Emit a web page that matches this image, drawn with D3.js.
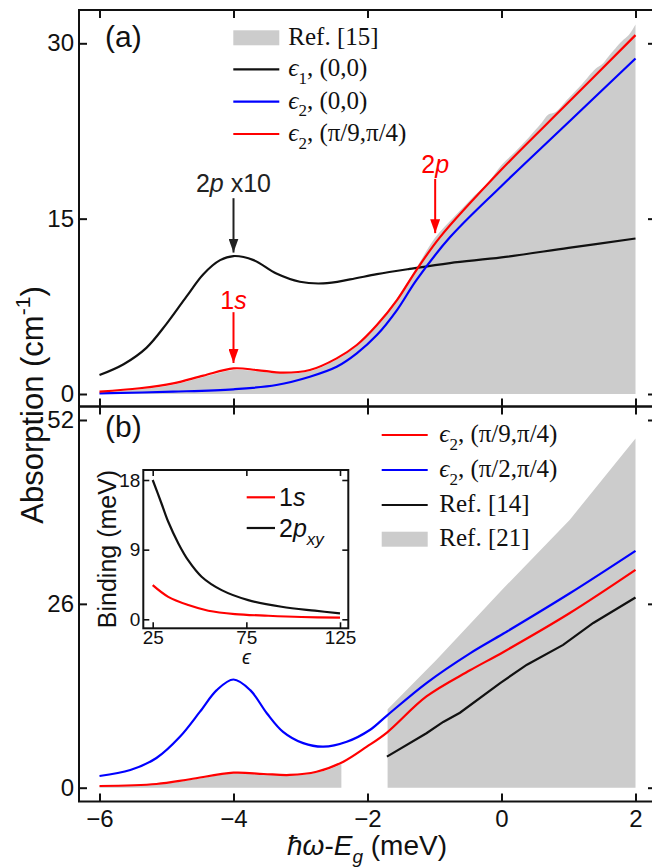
<!DOCTYPE html>
<html lang="en">
<head>
<meta charset="UTF-8">
<script src="https://d3js.org/d3.v7.min.js"></script>
<style>
  body { margin: 0; background: #fff; }
  svg { display: block; }
  .tick line { stroke: #111; stroke-width: 2; }
  .tick text { font-family: "Liberation Sans", Arial, sans-serif; font-size: 24px; fill: #111; }
  .inset .tick text { font-size: 19px; }
  .inset .tick line { stroke-width: 1.6; }
  .sans { font-family: "Liberation Sans", Arial, sans-serif; fill: #111; }
  .serif { font-family: "Liberation Serif", "Times New Roman", "DejaVu Serif", serif; fill: #111; }
  .frame { fill: none; stroke: #111; stroke-width: 2; }
</style>
</head>
<body>
<svg id="chart" width="652" height="867"></svg>
<script>
// ---------- panel (a) ----------
const eps1X = [-6, -5.64, -5.3, -5.0, -4.7, -4.45, -4.2, -4.0, -3.7, -3.36, -3.01, -2.66, -2.26, -1.86, -1.37, -0.77, 0, 1, 2];
const eps1Y = [1.62, 2.55, 3.95, 6.0, 8.35, 10.25, 11.45, 11.8, 11.45, 10.3, 9.6, 9.46, 9.8, 10.25, 10.7, 11.2, 11.68, 12.5, 13.3];

const eps2AX = [-6, -4.9, -4.0, -3.36, -2.86, -2.46, -2.16, -1.86, -1.56, -1.27, -0.77, 0, 1, 2];
const eps2AY = [0.05, 0.2, 0.4, 0.77, 1.48, 2.33, 3.48, 5.04, 7.18, 9.74, 13.4, 17.8, 23.25, 28.7];

const eps2BX = [-6, -5.4, -4.9, -4.45, -4.0, -3.65, -3.26, -2.86, -2.46, -2.16, -1.86, -1.56, -1.27, -0.92, 0, 1, 2];
const eps2BY = [0.2, 0.49, 0.91, 1.57, 2.19, 2.05, 1.82, 2.05, 3.05, 4.19, 5.9, 8.03, 10.6, 13.4, 19.2, 24.95, 30.7];

const ref15X = [-6, -5.4, -4.9, -4.45, -4.0, -3.65, -3.26, -2.86, -2.46, -2.16, -1.86, -1.56, -1.27, -1.0, -0.8, -0.6, -0.4, -0.2, 0, 0.2, 0.4, 0.6, 0.7, 0.8, 1.0, 1.2, 1.4, 1.5, 1.6, 1.8, 1.9, 2.0];
const ref15Y = [0.1, 0.4, 0.8, 1.45, 2.05, 1.95, 1.75, 1.95, 2.95, 4.1, 5.95, 8.2, 10.8, 13.3, 14.6, 15.8, 17.0, 18.1, 19.6, 20.7, 21.9, 23.2, 23.9, 24.1, 25.3, 26.5, 27.8, 28.2, 28.9, 30.2, 30.7, 31.6];

// ---------- panel (b) ----------
const bRedX = [-6, -5.15, -4.65, -4.0, -3.55, -3.16, -2.76, -2.36, -2.01, -1.71, -1.12, -0.47, 0.03, 1.02, 2.0];
const bRedY = [0.24, 0.52, 1.19, 2.12, 1.94, 1.8, 2.26, 3.68, 5.8, 7.8, 12.9, 16.6, 19.2, 24.7, 30.8];

const bBlueX = [-6, -5.54, -5.15, -4.8, -4.5, -4.25, -4.0, -3.75, -3.5, -3.26, -2.96, -2.66, -2.31, -1.96, -1.71, -1.12, -0.47, 0.03, 1.02, 2.0];
const bBlueY = [1.65, 2.5, 4.2, 7.2, 10.75, 13.8, 15.3, 13.8, 10.5, 7.9, 6.3, 5.8, 6.5, 8.2, 10.2, 14.8, 19.0, 21.8, 27.5, 33.5];

const ref14X = [-1.71, -1.12, -0.87, -0.62, -0.02, 0.38, 0.92, 1.37, 2.0];
const ref14Y = [4.4, 7.7, 9.3, 10.6, 14.8, 17.4, 20.2, 23.3, 26.9];

const ref21LowX = [-6, -5.5, -5.0, -4.5, -4.0, -3.5, -3.0, -2.6, -2.39];
const ref21LowY = [0.15, 0.3, 0.6, 1.3, 2.0, 1.85, 1.8, 2.5, 3.35];
const ref21HighX = [-1.70, -0.97, 0.03, 1.02, 2.0];
const ref21HighY = [11.1, 18.1, 28.2, 37.9, 49.4];

// ---------- inset ----------
const inEps2pX = [25, 29.8, 33.3, 38.7, 44, 51.1, 61.8, 76, 93.8, 111.6, 125];
const inEps2pY = [18.0, 14.9, 12.6, 9.8, 7.6, 5.5, 3.77, 2.48, 1.62, 1.11, 0.77];
const inEps1sX = [25, 33.3, 44, 54.7, 68.9, 86.7, 104.4, 125];
const inEps1sY = [4.41, 2.9, 1.84, 1.11, 0.68, 0.46, 0.30, 0.21];

const xTicks = [-6, -4, -2, 0, 2];
const yTicksA = [0, 15, 30];
const yTicksB = [0, 26, 52];
const inXTicks = [25, 75, 125];
const inYTicks = [0, 9, 18];

const RED = "#ff0000", BLUE = "#0000ff", BLACK = "#111", GRAY = "#cccccc";

const svg = d3.select("#chart");

// frame geometry
const L = 79, R = 656, T = 10, MID = 406.5, B = 801.5;

const x = d3.scaleLinear().domain([-6, 2]).range([99.5, 635.5]);
const yA = d3.scaleLinear().domain([0, 30]).range([394, 43.3]);
const yB = d3.scaleLinear().domain([0, 52]).range([787.7, 420]);

const smooth = d3.curveCatmullRom.alpha(0.5);
const zip = (xs, ys) => xs.map((v, i) => [v, ys[i]]);

// arrow markers
const defs = svg.append("defs");
[["arrBlack", "#222"], ["arrRed", RED]].forEach(([id, c]) => {
  defs.append("marker")
    .attr("id", id)
    .attr("viewBox", "0 -5 14 10")
    .attr("refX", 14).attr("refY", 0)
    .attr("markerWidth", 14).attr("markerHeight", 10)
    .attr("markerUnits", "userSpaceOnUse")
    .attr("orient", "auto")
    .append("path").attr("d", "M0,-5L14,0L0,5Z").attr("fill", c);
});

function rich(text, parts, size) {
  let shift = 0;
  parts.forEach(p => {
    const target = p.sub ? size * 0.3 : p.sup ? -size * 0.42 : 0;
    const s = text.append("tspan").text(p.t).attr("dy", target - shift);
    shift = target;
    if (p.sub || p.sup) s.attr("font-size", size * 0.68);
    if (p.it) s.attr("font-style", "italic");
  });
}

function drawArea(g, xs, ys, y, curve) {
  g.append("path")
    .datum(zip(xs, ys))
    .attr("fill", GRAY)
    .attr("d", d3.area().x(d => x(d[0])).y0(y(0)).y1(d => y(d[1])).curve(curve || smooth));
}

function drawLine(g, xs, ys, xs_, y, color, curve) {
  g.append("path")
    .datum(zip(xs, ys))
    .attr("fill", "none")
    .attr("stroke", color)
    .attr("stroke-width", 2.2)
    .attr("d", d3.line().x(d => xs_(d[0])).y(d => y(d[1])).curve(curve || smooth));
}

function tickAxes(y, yTicks, top, bottom, withXLabels) {
  svg.append("g").attr("transform", `translate(${L},0)`)
    .call(d3.axisLeft(y).tickValues(yTicks).tickSizeInner(-8).tickSizeOuter(0).tickPadding(5))
    .call(g => g.select(".domain").remove());
  svg.append("g").attr("transform", `translate(${R},0)`)
    .call(d3.axisRight(y).tickValues(yTicks).tickSizeInner(-8).tickSizeOuter(0).tickFormat(""))
    .call(g => g.select(".domain").remove());
  svg.append("g").attr("transform", `translate(0,${top})`)
    .call(d3.axisTop(x).tickValues(xTicks).tickSizeInner(-8).tickSizeOuter(0).tickFormat(""))
    .call(g => g.select(".domain").remove());
  const bx = d3.axisBottom(x).tickValues(xTicks).tickSizeInner(-8).tickSizeOuter(0).tickPadding(8);
  if (!withXLabels) bx.tickFormat("");
  svg.append("g").attr("transform", `translate(0,${bottom})`)
    .call(bx)
    .call(g => g.select(".domain").remove());
}

// ---------- panel (a) marks ----------
const gA = svg.append("g");
drawArea(gA, ref15X, ref15Y, yA);
drawLine(gA, eps1X, eps1Y, x, yA, BLACK);
drawLine(gA, eps2AX, eps2AY, x, yA, BLUE);
drawLine(gA, eps2BX, eps2BY, x, yA, RED);

// annotations (a)
const annA = [
  { x: -4, from: 16.75, to: 12.1, color: "#222", marker: "arrBlack", ty: 17.3, label: [{ t: "2" }, { t: "p", it: true }, { t: " x10" }] },
  { x: -4, from: 7.0, to: 2.65, color: RED, marker: "arrRed", ty: 7.3, label: [{ t: "1" }, { t: "s", it: true }] },
  { x: -0.99, from: 18.4, to: 13.76, color: RED, marker: "arrRed", ty: 18.9, label: [{ t: "2" }, { t: "p", it: true }] }
];
annA.forEach(a => {
  gA.append("line")
    .attr("x1", x(a.x)).attr("x2", x(a.x))
    .attr("y1", yA(a.from)).attr("y2", yA(a.to))
    .attr("stroke", a.color).attr("stroke-width", 2)
    .attr("marker-end", `url(#${a.marker})`);
  const t = gA.append("text").attr("class", "sans")
    .attr("x", x(a.x)).attr("y", yA(a.ty))
    .attr("text-anchor", "middle").attr("font-size", 25)
    .style("fill", a.color);
  rich(t, a.label, 25);
});

// ---------- panel (b) marks ----------
const gB = svg.append("g");
drawArea(gB, ref21LowX, ref21LowY, yB);
drawArea(gB, ref21HighX, ref21HighY, yB, d3.curveLinear);
drawLine(gB, ref14X, ref14Y, x, yB, BLACK, d3.curveLinear);
drawLine(gB, bRedX, bRedY, x, yB, RED);
drawLine(gB, bBlueX, bBlueY, x, yB, BLUE);

// frames & ticks
svg.append("rect").attr("class", "frame").attr("x", L).attr("y", T).attr("width", R - L).attr("height", MID - T);
svg.append("rect").attr("class", "frame").attr("x", L).attr("y", MID).attr("width", R - L).attr("height", B - MID);
tickAxes(yA, yTicksA, T, MID, false);
tickAxes(yB, yTicksB, MID, B, true);

// panel labels
svg.append("text").attr("class", "sans").attr("x", 105).attr("y", 47).attr("font-size", 30).text("(a)");
svg.append("text").attr("class", "sans").attr("x", 105).attr("y", 437).attr("font-size", 30).text("(b)");

// axis titles
const xt = svg.append("text").attr("class", "sans").attr("x", 367).attr("y", 855)
  .attr("text-anchor", "middle").attr("font-size", 28);
rich(xt, [{ t: "ħω", it: true }, { t: "-" }, { t: "E", it: true }, { t: "g", it: true, sub: true }, { t: " (meV)" }], 28);

const yt = svg.append("text").attr("class", "sans")
  .attr("transform", "translate(43,405) rotate(-90)")
  .attr("text-anchor", "middle").attr("font-size", 31);
rich(yt, [{ t: "Absorption (cm" }, { t: "-1", sup: true }, { t: ")" }], 31);

// ---------- legends ----------
function legend(items, x0, x1, tx) {
  const g = svg.append("g");
  items.forEach(it => {
    if (it.rect) {
      g.append("rect").attr("x", x0).attr("y", it.y - 7.5).attr("width", x1 - x0).attr("height", 15).attr("fill", GRAY);
    } else {
      g.append("line").attr("x1", x0).attr("x2", x1).attr("y1", it.y).attr("y2", it.y)
        .attr("stroke", it.color).attr("stroke-width", 2.2);
    }
    const t = g.append("text").attr("class", "serif").attr("x", tx).attr("y", it.y + 7).attr("font-size", 25);
    rich(t, it.label, 25);
  });
}
legend([
  { rect: true, y: 37.8, label: [{ t: "Ref. [15]" }] },
  { color: BLACK, y: 69.3, label: [{ t: "ϵ", it: true }, { t: "1", sub: true }, { t: ", (0,0)" }] },
  { color: BLUE, y: 101.7, label: [{ t: "ϵ", it: true }, { t: "2", sub: true }, { t: ", (0,0)" }] },
  { color: RED, y: 134, label: [{ t: "ϵ", it: true }, { t: "2", sub: true }, { t: ", (π/9,π/4)" }] }
], 233.3, 279.3, 288.3);

legend([
  { color: RED, y: 435, label: [{ t: "ϵ", it: true }, { t: "2", sub: true }, { t: ", (π/9,π/4)" }] },
  { color: BLUE, y: 470, label: [{ t: "ϵ", it: true }, { t: "2", sub: true }, { t: ", (π/2,π/4)" }] },
  { color: BLACK, y: 505, label: [{ t: "Ref. [14]" }] },
  { rect: true, y: 539.2, label: [{ t: "Ref. [21]" }] }
], 381.7, 427.7, 439.3);

// ---------- inset ----------
const inL = 143.3, inR = 348.3, inT = 470, inB = 628.3;
const xIn = d3.scaleLinear().domain([25, 125]).range([152.7, 340]);
const yIn = d3.scaleLinear().domain([0, 18]).range([619.3, 480]);
const gI = svg.append("g").attr("class", "inset");
gI.append("rect").attr("x", inL).attr("y", inT).attr("width", inR - inL).attr("height", inB - inT)
  .attr("fill", "#fff").attr("stroke", "#111").attr("stroke-width", 2);
drawLine(gI, inEps2pX, inEps2pY, xIn, yIn, BLACK);
drawLine(gI, inEps1sX, inEps1sY, xIn, yIn, RED);

gI.append("g").attr("transform", `translate(${inL},0)`)
  .call(d3.axisLeft(yIn).tickValues(inYTicks).tickSizeInner(-6).tickSizeOuter(0).tickPadding(3))
  .call(g => g.select(".domain").remove());
gI.append("g").attr("transform", `translate(${inR},0)`)
  .call(d3.axisRight(yIn).tickValues(inYTicks).tickSizeInner(-6).tickSizeOuter(0).tickFormat(""))
  .call(g => g.select(".domain").remove());
gI.append("g").attr("transform", `translate(0,${inT})`)
  .call(d3.axisTop(xIn).tickValues(inXTicks).tickSizeInner(-6).tickSizeOuter(0).tickFormat(""))
  .call(g => g.select(".domain").remove());
gI.append("g").attr("transform", `translate(0,${inB})`)
  .call(d3.axisBottom(xIn).tickValues(inXTicks).tickSizeInner(-6).tickSizeOuter(0).tickPadding(2))
  .call(g => g.select(".domain").remove());

gI.append("text").attr("class", "sans").attr("x", xIn(75)).attr("y", 664)
  .attr("text-anchor", "middle").attr("font-size", 20).attr("font-style", "italic").text("ϵ");
gI.append("text").attr("class", "sans")
  .attr("transform", "translate(116,549) rotate(-90)")
  .attr("text-anchor", "middle").attr("font-size", 25).text("Binding (meV)");

// inset legend
[[RED, 497.3, [{ t: "1" }, { t: "s", it: true }]],
 [BLACK, 528, [{ t: "2" }, { t: "p", it: true }, { t: "xy", it: true, sub: true }]]].forEach(([c, yy, lab]) => {
  gI.append("line").attr("x1", 246.7).attr("x2", 275).attr("y1", yy).attr("y2", yy)
    .attr("stroke", c).attr("stroke-width", 2.2);
  const t = gI.append("text").attr("class", "sans").attr("x", 279).attr("y", yy + 9).attr("font-size", 25);
  rich(t, lab, 25);
});
</script>
</body>
</html>
